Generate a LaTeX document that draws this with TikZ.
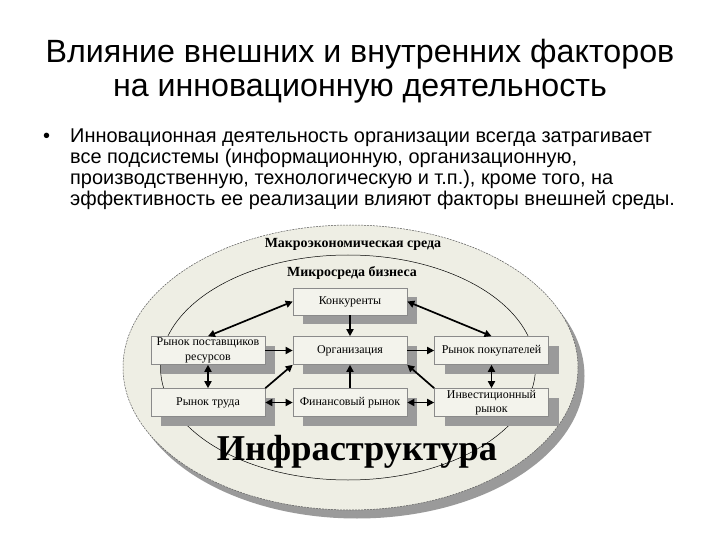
\documentclass[tikz,border=0pt]{standalone}
\usepackage{fontspec}
\setmainfont{Liberation Serif}
\newfontfamily\sansf{Liberation Sans}
\usetikzlibrary{arrows.meta,shadows}
\definecolor{ellfill}{HTML}{EEEEE4}
\definecolor{boxfill}{HTML}{F3F3EC}
\definecolor{shadowgray}{HTML}{9A9A9A}
\definecolor{boxline}{HTML}{8A8A8A}
\tikzset{
  box/.style={draw=boxline, line width=0.6bp, fill=boxfill, minimum width=114bp, minimum height=28bp,
    inner sep=0.5bp, align=center, font=\fontsize{12}{14.5}\selectfont,
    drop shadow={shadow xshift=10bp, shadow yshift=-9bp, fill=shadowgray, opacity=1}},
  arr/.style={line width=1.7bp, -{Triangle[length=7bp,width=7bp]}},
  darr/.style={line width=1.7bp, {Triangle[length=7bp,width=7bp]}-{Triangle[length=7bp,width=7bp]}},
  bodytxt/.style={anchor=base west, inner sep=0pt, font=\sansf\fontsize{20}{21}\selectfont},
  titletxt/.style={anchor=base, inner sep=0pt, font=\sansf\fontsize{32.3}{34}\selectfont},
  envlab/.style={inner sep=0pt, font=\bfseries\fontsize{14}{15}\selectfont}
}
\begin{document}
\begin{tikzpicture}[x=1bp,y=-1bp]
\useasboundingbox (0,0) rectangle (720,540);
% title
\node[titletxt] (t1) at (360,63) {Влияние внешних и внутренних факторов};
\node[titletxt] (t2) at (360,97) {на инновационную деятельность};
% bullet text
\node[bodytxt] (bul) at (43,143) {•};
\node[bodytxt] (b1) at (70,143) {Инновационная деятельность организации всегда затрагивает};
\node[bodytxt] (b2) at (70,164) {все подсистемы (информационную, организационную,};
\node[bodytxt] (b3) at (70,185) {производственную, технологическую и т.п.), кроме того, на};
\node[bodytxt] (b4) at (70,206) {эффективность ее реализации влияют факторы внешней среды.};
% ellipses
\fill[shadowgray] (357,376) ellipse [x radius=227.5, y radius=142.5];
\draw[fill=ellfill, draw=gray!70!black, line width=0.5bp, dash pattern=on 2bp off 1bp] (350.5,367.5) ellipse [x radius=227.5, y radius=142.5];
\draw[black, line width=0.5bp] (348,367.5) ellipse [x radius=187.5, y radius=112.5];
\node[envlab] (macro) at (353,244) {Макроэкономическая среда};
\node[envlab] (micro) at (352,273) {Микросреда бизнеса};
\node[inner sep=0pt, font=\bfseries\fontsize{36.5}{38}\selectfont] (infra) at (357,452) {Инфраструктура};
% boxes
\node[box, minimum height=27bp] (konk) at (350,301.5) {Конкуренты};
\node[box] (post) at (208,350.5) {Рынок поставщиков\\ресурсов};
\node[box] (org) at (350,350.5) {Организация};
\node[box] (pok) at (491.5,350.5) {Рынок покупателей};
\node[box] (trud) at (208,402.5) {Рынок труда};
\node[box] (fin) at (350,402.5) {Финансовый рынок};
\node[box] (inv) at (491.5,402.5) {Инвестиционный\\рынок};
% arrows
\draw[darr] (konk.west) -- (post.north);
\draw[darr] (konk.east) -- (pok.north);
\draw[arr] (konk.south) -- (org.north);
\draw[arr] (post.east) -- (org.west);
\draw[arr] (org.east) -- (pok.west);
\draw[darr] (post.south) -- (trud.north);
\draw[arr] (trud.north east) -- (org.south west);
\draw[arr] (fin.north) -- (org.south);
\draw[arr] (inv.north west) -- (org.south east);
\draw[darr] (pok.south) -- (inv.north);
\draw[darr] (trud.east) -- (fin.west);
\draw[darr] (fin.east) -- (inv.west);
\end{tikzpicture}
\end{document}
